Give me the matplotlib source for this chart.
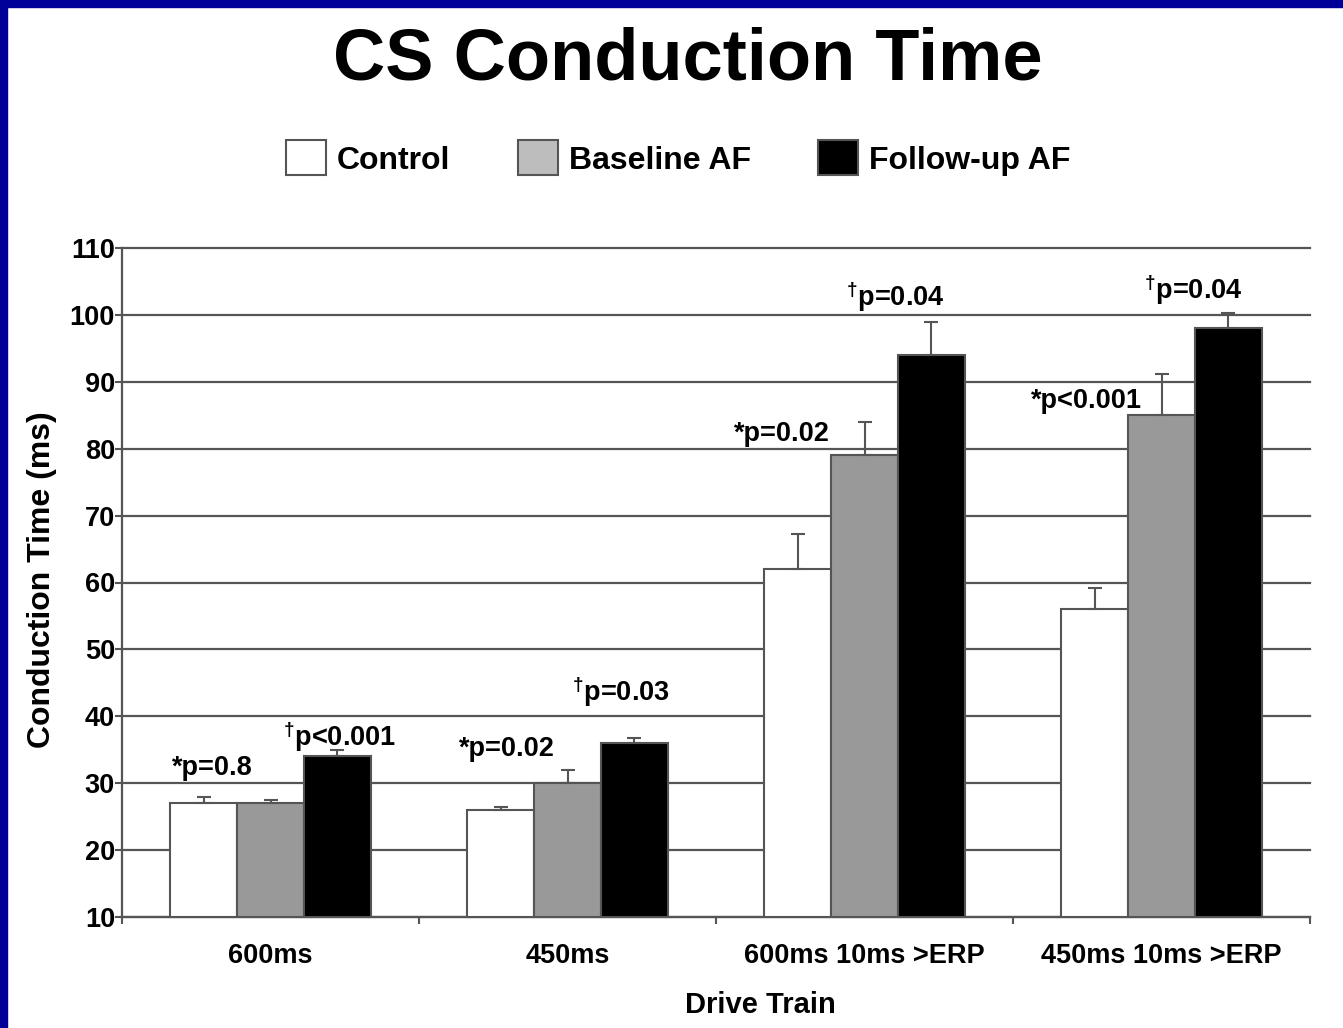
import numpy as np
import matplotlib
matplotlib.use("Agg")
import matplotlib.pyplot as plt
from matplotlib.patches import Patch, Rectangle

plt.rcParams['font.family'] = ['Liberation Sans', 'DejaVu Sans']
plt.rcParams['font.weight'] = 'bold'
plt.rcParams['mathtext.fontset'] = 'custom'
plt.rcParams['mathtext.rm'] = 'Liberation Sans:bold'
plt.rcParams['mathtext.default'] = 'rm'

# mean conduction time (ms) and upper SEM for each drive train
categories = ['600ms', '450ms', '600ms 10ms >ERP', '450ms 10ms >ERP']
groups = ['Control', 'Baseline AF', 'Follow-up AF']
control = [27, 26, 62, 56]
baseline = [27, 30, 79, 85]
followup = [34, 36, 94, 98]
control_err = [1.0, 0.5, 5.2, 3.2]
baseline_err = [0.5, 2.0, 5.0, 6.2]
followup_err = [1.0, 0.7, 5.0, 2.3]

# p-value labels: (text, x in category units, y in ms)
dag = r'$^{\dagger}$'
p_labels = ['*p=0.8', dag + 'p<0.001', '*p=0.02', dag + 'p=0.03',
            '*p=0.02', dag + 'p=0.04', '*p<0.001', dag + 'p=0.04']
p_x = [-0.197, 0.231, 0.796, 1.18, 1.722, 2.103, 2.749, 3.106]
p_y = [32.3, 37.0, 35.1, 43.6, 82.2, 102.7, 87.1, 103.7]

fills = ['white', '#999999', 'black']
legend_fills = ['white', '#bdbdbd', 'black']
edge = '#555555'

fig = plt.figure(figsize=(13.43, 10.28), dpi=100)
ax = fig.add_axes([122 / 1343, 1 - 917 / 1028, 1188 / 1343, 669 / 1028])

x = np.arange(len(categories))
w = 0.225
series = [control, baseline, followup]
errs = [control_err, baseline_err, followup_err]

for i, (vals, e) in enumerate(zip(series, errs)):
    pos = x + (i - 1) * w
    ax.bar(pos, np.array(vals) - 10, width=w, bottom=10, color=fills[i],
           edgecolor=edge, linewidth=1.5, zorder=3)
    ax.errorbar(pos, vals, yerr=[np.zeros(len(e)), e], fmt='none',
                ecolor=edge, elinewidth=1.5, capsize=5, capthick=1.5, zorder=4)

for t, px, py in zip(p_labels, p_x, p_y):
    ax.text(px, py, t, ha='center', va='center', fontsize=19.5,
            fontweight='bold', zorder=5)

ax.set_xlim(-0.5, 3.5)
ax.set_ylim(10, 110)
ax.set_yticks(np.arange(10, 111, 10))
ax.set_xticks(x)
ax.set_xticklabels(categories, fontsize=19.5, fontweight='bold')
ax.set_xticks(np.arange(-0.5, 4.0, 1.0), minor=True)
ax.tick_params(axis='x', which='major', length=0, pad=19)
ax.tick_params(axis='x', which='minor', length=5, color=edge, width=1.5)
ax.tick_params(axis='y', length=5, color=edge, width=1.5, labelsize=19.5, pad=0)
for lab in ax.get_yticklabels():
    lab.set_fontweight('bold')

ax.yaxis.grid(True, color='#555555', linewidth=1.6, zorder=0)
for gl in ax.get_ygridlines():
    gl.set_clip_on(False)
ax.set_axisbelow(True)
for s in ['top', 'right']:
    ax.spines[s].set_visible(False)
for s in ['left', 'bottom']:
    ax.spines[s].set_color(edge)
    ax.spines[s].set_linewidth(1.6)

ax.set_ylabel('Conduction Time (ms)', fontsize=23, fontweight='bold')
ax.yaxis.set_label_coords(-0.0673, 0.504)
ax.set_xlabel('Drive Train', fontsize=21, fontweight='bold')
ax.xaxis.set_label_coords(0.537, -0.1315)
ax.xaxis.label.set_va('center')
ax.yaxis.label.set_va('center')

fig.text(0.512, 1 - 60 / 1028, 'CS Conduction Time', ha='center', va='center',
         fontsize=52, fontweight='bold')

handles = [Patch(facecolor=c, edgecolor=edge, linewidth=1.5) for c in legend_fills]
fig.legend(handles, groups, loc='center', bbox_to_anchor=(0.505, 1 - 158 / 1028),
           ncol=3, frameon=False, fontsize=23, handlelength=1.25, handleheight=1.3,
           handletextpad=0.35, columnspacing=2.1)

# blue frame along the top and left edges
fig.patches.append(Rectangle((0, 0), 7 / 1343, 1, transform=fig.transFigure,
                             color='#000099', zorder=10))
fig.patches.append(Rectangle((0, 1 - 7 / 1028), 1, 7 / 1028, transform=fig.transFigure,
                             color='#000099', zorder=10))

fig.savefig('out.png', dpi=100)
